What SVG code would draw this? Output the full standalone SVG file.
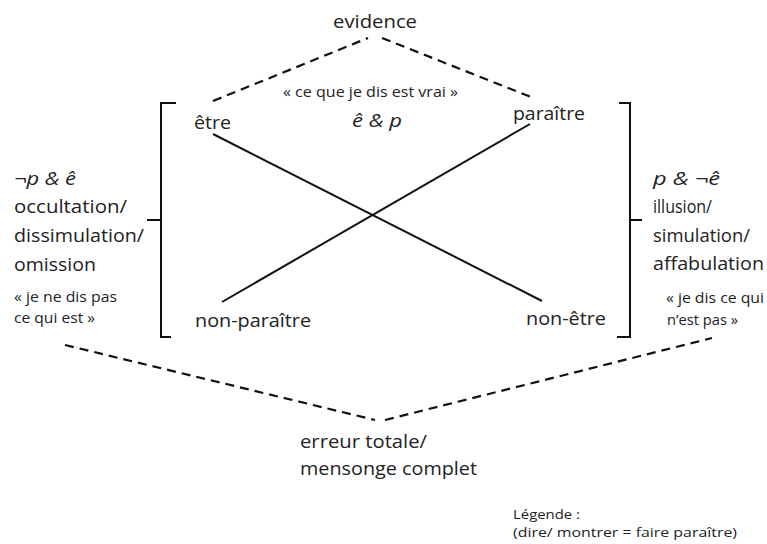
<svg xmlns="http://www.w3.org/2000/svg" width="767" height="544" viewBox="0 0 767 544">
<style>
text{font-family:"Open Sans",Lato,"Liberation Sans",sans-serif;fill:#222;font-variant-ligatures:none}
.l{font-size:19px}
.m{font-size:18px}
.s{font-size:14.5px}
.t{font-size:13.5px}
.i{font-style:italic}
.d{stroke:#111;stroke-width:2.2;stroke-dasharray:9,6;fill:none}
.k{stroke:#111;stroke-width:2;fill:none}
</style>
<rect width="767" height="544" fill="#fff"/>
<g id="connectors">
<path class="d" d="M213,101 L368,38"/>
<path class="d" d="M382,38 L531,97"/>
<path class="d" d="M65,345 L375,420"/>
<path class="d" d="M385,420 L712,338"/>
<path class="k" d="M213,134 L542,301"/>
<path class="k" d="M530,124 L222,302"/>
</g>
<g id="bracket-left"><path class="k" d="M176,103 H161 V337 H171 M147,220 H161"/></g>
<g id="bracket-right"><path class="k" d="M619,103 H630 V337 H617 M630,220 H642"/></g>
<g id="evidence"><text class="l" x="333" y="28" textLength="84" lengthAdjust="spacingAndGlyphs">evidence</text></g>
<g id="top-label">
<text class="s" x="283" y="97" textLength="175" lengthAdjust="spacingAndGlyphs">« ce que je dis est vrai »</text>
<text class="m i" x="352" y="127" textLength="50" lengthAdjust="spacingAndGlyphs">ê &amp; p</text>
</g>
<g id="etre"><text class="m" x="194" y="129" textLength="37" lengthAdjust="spacingAndGlyphs">être</text></g>
<g id="paraitre"><text class="m" x="513" y="120" textLength="72" lengthAdjust="spacingAndGlyphs">paraître</text></g>
<g id="non-paraitre"><text class="m" x="195" y="327" textLength="116" lengthAdjust="spacingAndGlyphs">non-paraître</text></g>
<g id="non-etre"><text class="m" x="526" y="325" textLength="80" lengthAdjust="spacingAndGlyphs">non-être</text></g>
<g id="left">
<text class="l i" x="14" y="185" textLength="62" lengthAdjust="spacingAndGlyphs">¬p &amp; ê</text>
<text class="l" x="14" y="213" textLength="113" lengthAdjust="spacingAndGlyphs">occultation/</text>
<text class="l" x="14" y="242" textLength="130" lengthAdjust="spacingAndGlyphs">dissimulation/</text>
<text class="l" x="14" y="271" textLength="82" lengthAdjust="spacingAndGlyphs">omission</text>
<text class="s" x="14" y="302" textLength="103" lengthAdjust="spacingAndGlyphs">« je ne dis pas</text>
<text class="s" x="14" y="323" textLength="81" lengthAdjust="spacingAndGlyphs">ce qui est »</text>
</g>
<g id="right">
<text class="l i" x="653" y="185" textLength="67" lengthAdjust="spacingAndGlyphs">p &amp; ¬ê</text>
<text class="l" x="653" y="213" textLength="59" lengthAdjust="spacingAndGlyphs">illusion/</text>
<text class="l" x="653" y="242" textLength="97" lengthAdjust="spacingAndGlyphs">simulation/</text>
<text class="l" x="653" y="270" textLength="111" lengthAdjust="spacingAndGlyphs">affabulation</text>
<text class="s" x="666" y="303" textLength="98" lengthAdjust="spacingAndGlyphs">« je dis ce qui</text>
<text class="s" x="667" y="325" textLength="71" lengthAdjust="spacingAndGlyphs">n’est pas »</text>
</g>
<g id="erreur">
<text class="l" x="300" y="448" textLength="127" lengthAdjust="spacingAndGlyphs">erreur totale/</text>
<text class="l" x="300" y="475" textLength="177" lengthAdjust="spacingAndGlyphs">mensonge complet</text>
</g>
<g id="legende">
<text class="t" x="513" y="519" textLength="67" lengthAdjust="spacingAndGlyphs">Légende :</text>
<text class="t" x="513" y="537" textLength="224" lengthAdjust="spacingAndGlyphs">(dire/ montrer = faire paraître)</text>
</g>
</svg>
